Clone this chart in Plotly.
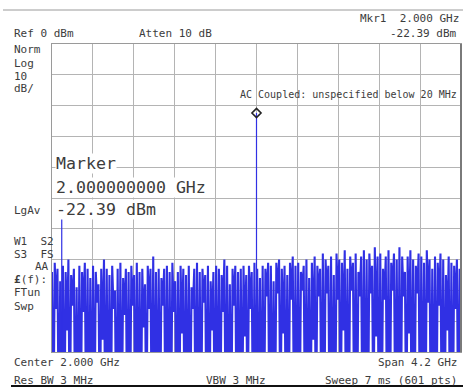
import numpy as np
import plotly.graph_objects as go

# ---- data ----
span_start_ghz = -0.1
span_stop_ghz = 4.1
ref_level_dbm = 0
bottom_dbm = -100

noise_highs = [
    -74, -71, -73, -77, -72, -74, -70, -75, -73, -79,
    -72, -74, -71, -73, -76, -72, -74, -78, -73, -70,
    -73, -75, -72, -80, -73, -71, -76, -73, -74, -72,
    -75, -71, -74, -73, -78, -72, -73, -69, -74, -73,
    -76, -73, -72, -74, -71, -77, -74, -72, -73, -75,
    -72, -79, -73, -71, -74, -73, -75, -72, -77, -74,
    -72, -73, -75, -70, -72, -78, -73, -72, -74, -73,
    -72, -75, -72, -74, -71, -73, -76, -72, -73, -71,
    -72, -77, -71, -70, -73, -72, -75, -71, -69, -72,
    -71, -74, -72, -70, -76, -71, -69, -72, -73, -68,
    -70, -72, -69, -75, -68, -70, -71, -67, -73, -69,
    -71, -68, -74, -69, -67, -70, -68, -72, -66, -69,
    -68, -73, -69, -67, -71, -68, -70, -66, -69, -74,
    -69, -67, -70, -72, -68, -69, -71, -67, -70, -73,
    -69, -71, -68, -70, -75, -69, -71, -72, -70, -73,
]

noise_lows = [
    -130, -86, -130, -130, -130, -93, -130, -85, -130, -130,
    -130, -87, -130, -130, -130, -130, -84, -130, -96, -130,
    -130, -130, -86, -130, -130, -130, -88, -130, -130, -85,
    -130, -130, -130, -92, -130, -86, -130, -130, -130, -130,
    -85, -130, -130, -130, -87, -130, -130, -94, -130, -130,
    -130, -86, -130, -130, -130, -84, -130, -130, -93, -130,
    -130, -130, -87, -130, -130, -130, -85, -130, -130, -130,
    -95, -130, -86, -130, -130, -130, -130, -130, -82, -130,
    -130, -130, -81, -130, -94, -130, -130, -83, -130, -130,
    -130, -80, -130, -130, -130, -96, -130, -82, -130, -130,
    -81, -130, -130, -130, -83, -130, -93, -130, -130, -80,
    -130, -130, -82, -130, -130, -130, -81, -130, -95, -130,
    -130, -83, -130, -130, -80, -130, -130, -130, -82, -130,
    -94, -130, -130, -81, -130, -130, -130, -84, -130, -130,
    -130, -85, -130, -130, -93, -130, -130, -86, -130, -130,
]

signal_freqs_ghz = [0.0, 2.0]
signal_levels_dbm = [-56.6, -22.39]
marker_freq_ghz = 2.0
marker_level_dbm = -22.39

# ---- build trace ----
noise_vals = []
for h, l in zip(noise_highs, noise_lows):
    noise_vals.append(h)
    noise_vals.append(l)
noise_freqs = np.linspace(span_start_ghz, span_stop_ghz, len(noise_vals))

BLUE = "#3030e4"
TXT = "#3c3c3c"
FONT = "DejaVu Sans Mono"

fig = go.Figure()
fig.add_trace(go.Scatter(x=noise_freqs, y=noise_vals, mode="lines",
                         line=dict(color=BLUE, width=2.1, simplify=False),
                         hoverinfo="skip"))
for f, lv in zip(signal_freqs_ghz, signal_levels_dbm):
    fig.add_trace(go.Scatter(x=[f, f], y=[-130, lv], mode="lines",
                             line=dict(color=BLUE, width=1.2), hoverinfo="skip"))
fig.add_trace(go.Scatter(x=[marker_freq_ghz], y=[marker_level_dbm], mode="markers",
                         marker=dict(symbol="diamond-open", size=7,
                                     color="#222222", line=dict(width=1.6)),
                         hoverinfo="skip"))

W, H = 463, 387
L, R, T, B = 52, 461, 44, 352


def px(x, y):
    return (x - L) / (R - L), (B - y) / (B - T)


anns = []


def text(s, x, y, anchor="left", size=11, bg=None):
    ax, ay = px(x, y)
    d = dict(text=s, x=ax, y=ay, xref="paper", yref="paper", showarrow=False,
             xanchor=anchor, yanchor="middle",
             font=dict(family=FONT, size=size, color=TXT))
    if bg:
        d["bgcolor"] = bg
        d["borderpad"] = 0
    anns.append(d)


text("Mkr1  2.000 GHz", 461, 19, "right")
text("Ref 0 dBm", 12, 34)
text("Atten 10 dB", 137, 34)
text("-22.39 dBm", 459, 34, "right")
text("Norm", 12, 50)
text("Log", 12, 63)
text("10", 12, 76)
text("dB/", 12, 89)
text("LgAv", 12, 210)
text("W1  S2", 12, 242)
text("S3  FS", 12, 254)
text("AA", 51, 266, "right")
text("<b>£</b>(f):", 12, 279)
text("FTun", 12, 292)
text("Swp", 12, 306)
text("AC Coupled: unspecified below 20 MHz", 459, 94, "right", size=10)
text("Marker", 55, 163, size=16.6, bg="white")
text("2.000000000 GHz", 55, 187, size=16.6, bg="white")
text("-22.39 dBm", 55, 209, size=16.6, bg="white")
text("Center 2.000 GHz", 12, 362)
text("Span 4.2 GHz", 459, 362, "right")
text("Res BW 3 MHz", 12, 380)
text("VBW 3 MHz", 236, 380, "center")
text("Sweep 7 ms (601 pts)", 459, 380, "right")

shapes = [
    dict(type="line", xref="paper", yref="paper",
         x0=px(3, 10)[0], x1=px(463, 10)[0], y0=px(3, 10)[1], y1=px(3, 10)[1],
         line=dict(color="#9a9a9a", width=1)),
    dict(type="line", xref="paper", yref="paper",
         x0=px(11, 386)[0], x1=px(463, 386)[0], y0=px(11, 386)[1], y1=px(11, 386)[1],
         line=dict(color="#111111", width=2)),
    dict(type="line", xref="paper", yref="paper",
         x0=1, x1=1, y0=0, y1=1, line=dict(color="#7a7a7a", width=2)),
]

fig.update_layout(
    width=W, height=H,
    margin=dict(l=L, r=W - R, t=T, b=H - B),
    paper_bgcolor="white", plot_bgcolor="white",
    showlegend=False,
    annotations=anns, shapes=shapes,
    xaxis=dict(range=[span_start_ghz, span_stop_ghz], dtick=0.42, tick0=span_start_ghz,
               showticklabels=False, ticks="", showgrid=True, gridcolor="#b4b4b4",
               gridwidth=1, zeroline=False, showline=True, linecolor="#9a9a9a",
               mirror=True, fixedrange=True),
    yaxis=dict(range=[bottom_dbm, ref_level_dbm], dtick=10,
               showticklabels=False, ticks="", showgrid=True, gridcolor="#b4b4b4",
               gridwidth=1, zeroline=False, showline=True, linecolor="#9a9a9a",
               mirror=True, fixedrange=True),
)

fig.write_html("out.html", config={"displayModeBar": False},
               post_script="document.body.style.margin='0';document.body.style.padding='0';")
